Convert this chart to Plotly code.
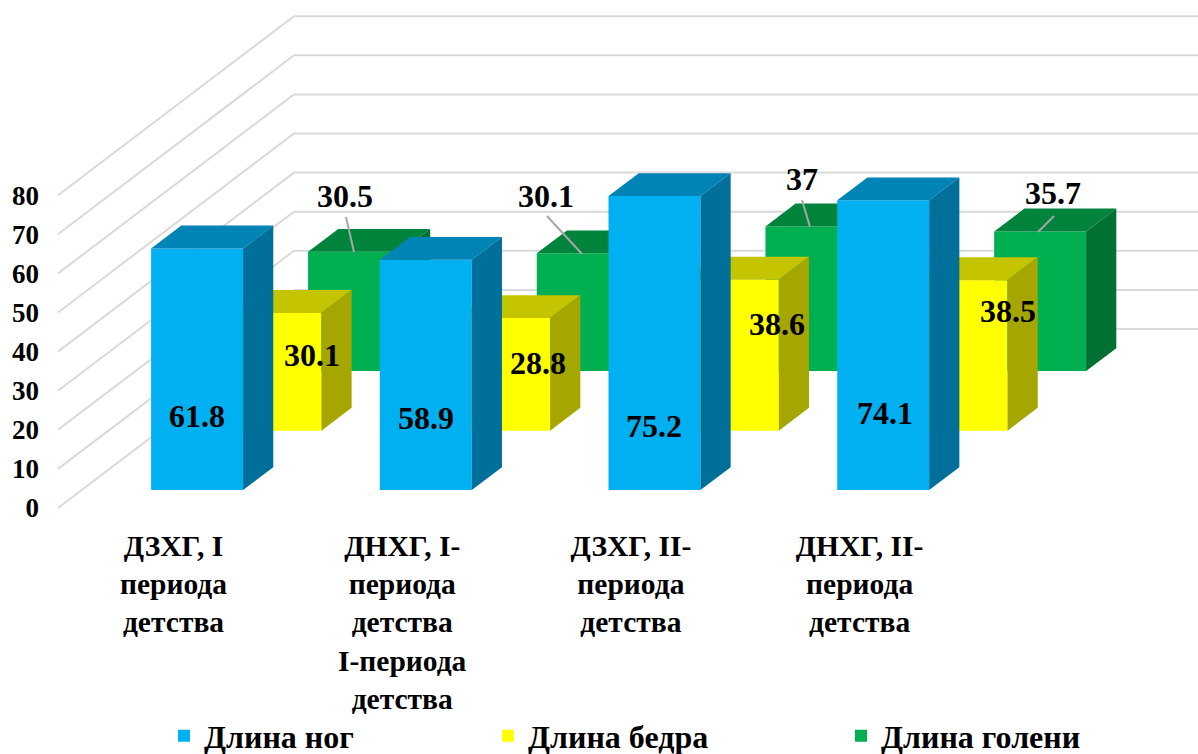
import plotly.graph_objects as go

# ---- data ----
categories = ["ДЗХГ, I<br>периода<br>детства",
              "ДНХГ, I-<br>периода<br>детства<br>I-периода<br>детства",
              "ДЗХГ, II-<br>периода<br>детства",
              "ДНХГ, II-<br>периода<br>детства"]
leg_len = [61.8, 58.9, 75.2, 74.1]
thigh_len = [30.1, 28.8, 38.6, 38.5]
shin_len = [30.5, 30.1, 37, 35.7]
y_ticks = [0, 10, 20, 30, 40, 50, 60, 70, 80]
names = ["Длина ног", "Длина бедра", "Длина голени"]

# ---- styling / geometry (pixels of the 1198x754 page) ----
FONT = "Liberation Serif"
W, H = 1198, 754
M_L, M_B = 40, 229
X0, Y0 = 58, 508          # page position of category 0 start, value 0, front of the floor
CAT_PX, VAL_PX = 228.7, 3.91
DEPTH_X, DEPTH_Y = 236, 179  # full floor depth vector
BAR_W = 0.402
BAR_CENTER = 0.505
BAR_DEPTH = 0.128
SERIES_DEPTH = [0.1, 0.432, 0.765]
COLORS = [("#00B0F0", "#0083B5", "#006F9A"),
          ("#FFFF00", "#C4C400", "#A6A600"),
          ("#00B050", "#00843C", "#007033")]
GRID = "#D9D9D9"

def dx(d):
    return DEPTH_X * d / CAT_PX

def dy(d):
    return DEPTH_Y * d / VAL_PX

def px_x(p):
    return (p - X0) / CAT_PX

def px_y(p):
    return (Y0 - p) / VAL_PX

x_range = [px_x(M_L), px_x(W)]
y_range = [px_y(H - M_B), px_y(0)]

fig = go.Figure()

# walls: grid lines climb the side wall, then run along the back wall
gx, gy = [], []
for t in y_ticks[::1]:
    gx += [0, dx(1), x_range[1], None]
    gy += [t, t + dy(1), t + dy(1), None]
fig.add_trace(go.Scatter(x=gx, y=gy, mode="lines", line=dict(color=GRID, width=2),
                         showlegend=False, hoverinfo="skip", xaxis="x", yaxis="y"))

# series drawn back to front, each in its own overlay subplot so it covers the one behind
series = [leg_len, thigh_len, shin_len]
legends = ["legend", "legend2", "legend3"]
for layer, s in enumerate([2, 1, 0]):
    vals = series[s]
    d = SERIES_DEPTH[s]
    front, top, side = COLORS[s]
    xa, ya = f"x{layer + 2}", f"y{layer + 2}"
    centers = [i + BAR_CENTER + dx(d) for i in range(len(vals))]
    fig.add_trace(go.Bar(x=centers, y=vals, base=[dy(d)] * len(vals), width=BAR_W,
                         marker=dict(color=front, line=dict(width=0)), name=names[s],
                         legend=legends[s], xaxis=xa, yaxis=ya, hoverinfo="skip"))
    tx, ty, sx, sy = [], [], [], []
    for c, v in zip(centers, vals):
        l, r = c - BAR_W / 2, c + BAR_W / 2
        b, u = dy(d), dy(d) + v
        ox, oy = dx(BAR_DEPTH), dy(BAR_DEPTH)
        tx += [l, r, r + ox, l + ox, l, None]
        ty += [u, u, u + oy, u + oy, u, None]
        sx += [r, r + ox, r + ox, r, r, None]
        sy += [b, b + oy, u + oy, u, b, None]
    for qx, qy, col in ((tx, ty, top), (sx, sy, side)):
        fig.add_trace(go.Scatter(x=qx, y=qy, mode="lines", fill="toself", fillcolor=col,
                                 line=dict(width=0, color=col), showlegend=False,
                                 hoverinfo="skip", xaxis=xa, yaxis=ya))

# leader lines of the green labels
LEADERS = [((346, 217), (354, 252)), ((547, 216), (582, 254)),
           ((802, 200), (810, 227)), ((1054, 216), (1038, 232))]
lx, ly = [], []
for a, b in LEADERS:
    lx += [px_x(a[0]), px_x(b[0]), None]
    ly += [px_y(a[1]), px_y(b[1]), None]
fig.add_trace(go.Scatter(x=lx, y=ly, mode="lines", line=dict(color="#A6A6A6", width=2),
                         showlegend=False, hoverinfo="skip", xaxis="x4", yaxis="y4"))

# value labels
LABEL_POS = [[(197, 419), (426, 421), (654, 429), (885, 416)],
             [(312, 358), (538, 366), (777, 327), (1008, 314)],
             [(345, 199), (546, 199), (802, 182), (1053, 196)]]
for s, vals in enumerate(series):
    fig.add_trace(go.Scatter(
        x=[px_x(p[0]) for p in LABEL_POS[s]], y=[px_y(p[1]) for p in LABEL_POS[s]],
        text=[str(v) for v in vals], mode="text", cliponaxis=False,
        textposition="middle center",
        textfont=dict(family=FONT, size=32, color="#000000", weight=700),
        showlegend=False, hoverinfo="skip", xaxis="x4", yaxis="y4"))

layout = dict(
    width=W, height=H, autosize=False, template=None,
    paper_bgcolor="white", plot_bgcolor="white",
    margin=dict(l=M_L, r=0, t=0, b=M_B, pad=0, autoexpand=False),
    barmode="overlay", hovermode=False,
    xaxis=dict(range=x_range, tickmode="array",
               tickvals=[i + 0.505 for i in range(len(categories))], ticktext=categories,
               tickfont=dict(family=FONT, size=29.5, color="#000000", weight=700),
               showgrid=False, zeroline=False, showline=False, ticks="", automargin=False,
               tickangle=0, fixedrange=True),
    yaxis=dict(range=y_range, tickmode="array", tickvals=y_ticks,
               ticktext=[str(t) for t in y_ticks],
               tickfont=dict(family=FONT, size=27, color="#000000", weight=700),
               showgrid=False, zeroline=False, showline=False, ticks="", automargin=False,
               fixedrange=True),
)
for n in (2, 3, 4):
    layout[f"xaxis{n}"] = dict(range=x_range, overlaying="x", visible=False, fixedrange=True)
    layout[f"yaxis{n}"] = dict(range=y_range, overlaying="y", visible=False, fixedrange=True)

plot_w = W - M_L
plot_h = H - M_B
LEGEND_X = [164, 488, 841]
LEGEND_Y = 736
for key, lxp in zip(legends, LEGEND_X):
    layout[key] = dict(x=(lxp - M_L) / plot_w, y=(plot_h - LEGEND_Y) / plot_h,
                       xanchor="left", yanchor="middle", orientation="h",
                       bgcolor="rgba(0,0,0,0)", borderwidth=0,
                       font=dict(family=FONT, size=32, color="#000000", weight=700))
fig.update_layout(**layout)

fig.write_html("out.html", config=dict(displayModeBar=False),
               post_script="document.body.style.margin='0';")
